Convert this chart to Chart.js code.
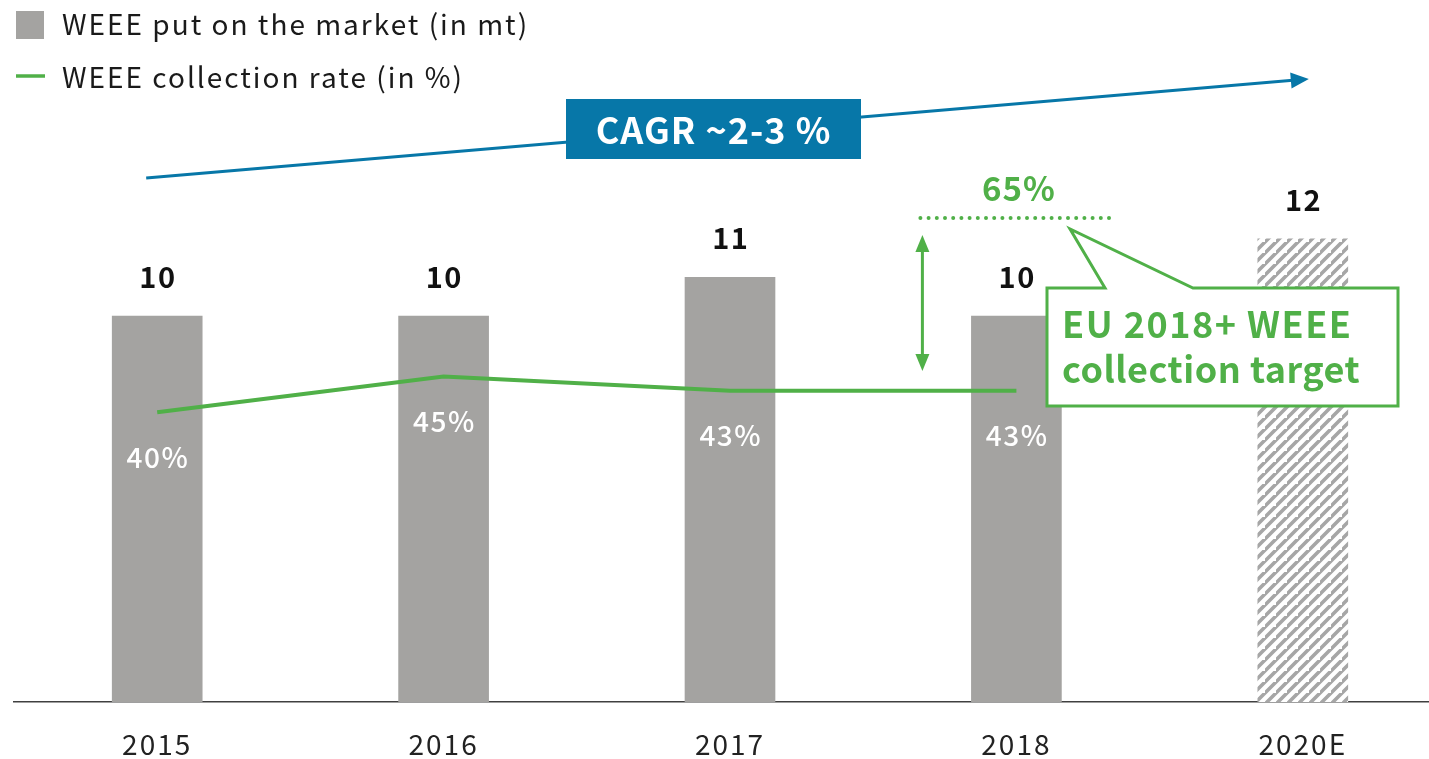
<!DOCTYPE html>
<html><head><meta charset="utf-8">
<script src="https://cdn.jsdelivr.net/npm/chart.js@4"></script>
<style>
html,body{margin:0;padding:0;overflow:hidden;background:#fff;width:1429px;height:759px}
#wrap{position:absolute;left:0;top:0;width:1460px;height:759px}
</style>
</head><body><div id="wrap"><canvas id="c" width="1460" height="759"></canvas></div>
<script>
const categories = ['2015', '2016', '2017', '2018', '2020E'];
const marketValues = [10, 10, 11, 10, 12];
const marketLabels = ['10', '10', '11', '10', '12'];
const collectionRates = [40, 45, 43, 43, null];
const rateLabels = ['40%', '45%', '43%', '43%', ''];
const legendLabels = ['WEEE put on the market (in mt)', 'WEEE collection rate (in %)'];
const cagrText = 'CAGR ~2-3 %';
const targetText = '65%';
const calloutLines = ['EU 2018+ WEEE', 'collection target'];

const FONT = "'Noto Sans CJK JP', 'Noto Sans', sans-serif";
const GRAY = '#a4a3a1';
const GREEN = '#50b048';
const BLUE = '#0777a8';

function hatch() {
  const s = 11;
  const p = document.createElement('canvas');
  p.width = s; p.height = s;
  const g = p.getContext('2d');
  g.fillStyle = '#fff'; g.fillRect(0, 0, s, s);
  g.strokeStyle = '#a6a6a6'; g.lineWidth = 3.6;
  g.beginPath();
  g.moveTo(-2, s + 2); g.lineTo(s + 2, -2);
  g.moveTo(-2 - s, s + 2); g.lineTo(2, -2);
  g.moveTo(s - 2, 2 * s + 2); g.lineTo(2 * s + 2, s - 2);
  g.stroke();
  return g.createPattern(p, 'repeat');
}
const barColors = marketValues.map((v, i) => i === 4 ? hatch() : GRAY);

function txt(ctx, s, x, y, font, color, spacing, align) {
  ctx.font = font;
  ctx.fillStyle = color;
  ctx.letterSpacing = spacing + 'px';
  ctx.textAlign = 'left';
  let w = ctx.measureText(s).width - spacing;
  let sx = align === 'left' ? x : x - w / 2;
  ctx.fillText(s, sx, y);
}

const annot = {
  id: 'annot',
  beforeDraw(chart) { chart.ctx.letterSpacing = '2px'; },
  afterDatasetsDraw(chart) {
    const ctx = chart.ctx;
    const x = chart.scales.x;
    const pts = chart.getDatasetMeta(0).data;
    const bars = chart.getDatasetMeta(1).data;
    ctx.save();
    ctx.textBaseline = 'middle';
    bars.forEach((b, i) => txt(ctx, marketLabels[i], b.x, b.y - 39, 'bold 29px ' + FONT, '#111', 1.5));
    pts.forEach((p, i) => { if (rateLabels[i]) txt(ctx, rateLabels[i], p.x, p.y + 45, '500 28px ' + FONT, '#fff', 1.5); });

    // CAGR arrow
    const x0 = x.getPixelForValue(0) - 11, y0 = 178;
    const x1 = x.getPixelForValue(4) + 6, y1 = 79;
    const ang = Math.atan2(y1 - y0, x1 - x0);
    ctx.strokeStyle = BLUE; ctx.fillStyle = BLUE; ctx.lineWidth = 3;
    ctx.beginPath(); ctx.moveTo(x0, y0);
    ctx.lineTo(x1 - 16 * Math.cos(ang), y1 - 16 * Math.sin(ang)); ctx.stroke();
    ctx.beginPath();
    ctx.moveTo(x1, y1);
    ctx.lineTo(x1 - 18 * Math.cos(ang) + 8 * Math.sin(ang), y1 - 18 * Math.sin(ang) - 8 * Math.cos(ang));
    ctx.lineTo(x1 - 18 * Math.cos(ang) - 8 * Math.sin(ang), y1 - 18 * Math.sin(ang) + 8 * Math.cos(ang));
    ctx.closePath(); ctx.fill();
    ctx.fillStyle = BLUE;
    ctx.fillRect(566, 99, 295, 60);
    txt(ctx, cagrText, 713, 130, 'bold 36px ' + FONT, '#fff', 1);

    // 65% target
    const xt = x.getPixelForValue(3);
    txt(ctx, targetText, xt + 2, 188, 'bold 33px ' + FONT, GREEN, 1);
    ctx.strokeStyle = GREEN; ctx.lineWidth = 4; ctx.lineCap = 'round';
    ctx.setLineDash([0, 8.2]);
    ctx.beginPath(); ctx.moveTo(xt - 96, 218); ctx.lineTo(xt + 98, 218); ctx.stroke();
    ctx.setLineDash([]);
    const xa = xt - 94;
    ctx.lineWidth = 3; ctx.lineCap = 'butt';
    ctx.beginPath(); ctx.moveTo(xa, 248); ctx.lineTo(xa, 358); ctx.stroke();
    ctx.fillStyle = GREEN;
    ctx.beginPath(); ctx.moveTo(xa, 235); ctx.lineTo(xa - 7, 252); ctx.lineTo(xa + 7, 252); ctx.closePath(); ctx.fill();
    ctx.beginPath(); ctx.moveTo(xa, 371); ctx.lineTo(xa - 7, 354); ctx.lineTo(xa + 7, 354); ctx.closePath(); ctx.fill();

    // callout
    ctx.fillStyle = '#fff'; ctx.strokeStyle = GREEN; ctx.lineWidth = 3; ctx.lineJoin = 'miter';
    ctx.beginPath();
    ctx.moveTo(1047, 288);
    ctx.lineTo(1105, 288);
    ctx.lineTo(1070, 229);
    ctx.lineTo(1193, 288);
    ctx.lineTo(1398, 288);
    ctx.lineTo(1398, 406);
    ctx.lineTo(1047, 406);
    ctx.closePath();
    ctx.fill(); ctx.stroke();
    txt(ctx, calloutLines[0], 1062, 324, 'bold 36px ' + FONT, GREEN, 1.5, 'left');
    txt(ctx, calloutLines[1], 1062, 369, 'bold 36px ' + FONT, GREEN, 0.5, 'left');
    ctx.restore();
  },
  afterDraw(chart) {
    const ctx = chart.ctx;
    ctx.save();
    ctx.fillStyle = GRAY;
    ctx.fillRect(16, 11, 28, 28);
    ctx.strokeStyle = GREEN; ctx.lineWidth = 3.5;
    ctx.beginPath(); ctx.moveTo(16, 76); ctx.lineTo(45, 76); ctx.stroke();
    ctx.textBaseline = 'middle';
    txt(ctx, legendLabels[0], 62, 24, '28px ' + FONT, '#1a1a1a', 2, 'left');
    txt(ctx, legendLabels[1], 62, 77, '28px ' + FONT, '#1a1a1a', 2, 'left');
    ctx.restore();
  }
};

new Chart(document.getElementById('c'), {
  data: {
    labels: categories,
    datasets: [
      { type: 'line', label: legendLabels[1], data: collectionRates, yAxisID: 'y1',
        borderColor: GREEN, borderWidth: 4, pointRadius: 0, tension: 0, order: 0 },
      { type: 'bar', label: legendLabels[0], data: marketValues, yAxisID: 'y',
        backgroundColor: barColors, barThickness: 90, order: 1 }
    ]
  },
  options: {
    responsive: false,
    animation: false,
    events: [],
    layout: { padding: { left: 14, right: 14, top: 100, bottom: 0 } },
    plugins: { legend: { display: false }, tooltip: { enabled: false } },
    scales: {
      x: {
        offset: true,
        grid: { display: false },
        border: { display: true, color: '#404040', width: 1.5 },
        ticks: { color: '#222', font: { family: FONT, size: 28 }, padding: 18 },
        afterFit: s => { s.height = 57; }
      },
      y: { display: false, min: 0, max: 15.596 },
      y1: { display: false, min: -0.35, max: 83.5 }
    }
  },
  plugins: [annot]
});
</script>
</body></html>
